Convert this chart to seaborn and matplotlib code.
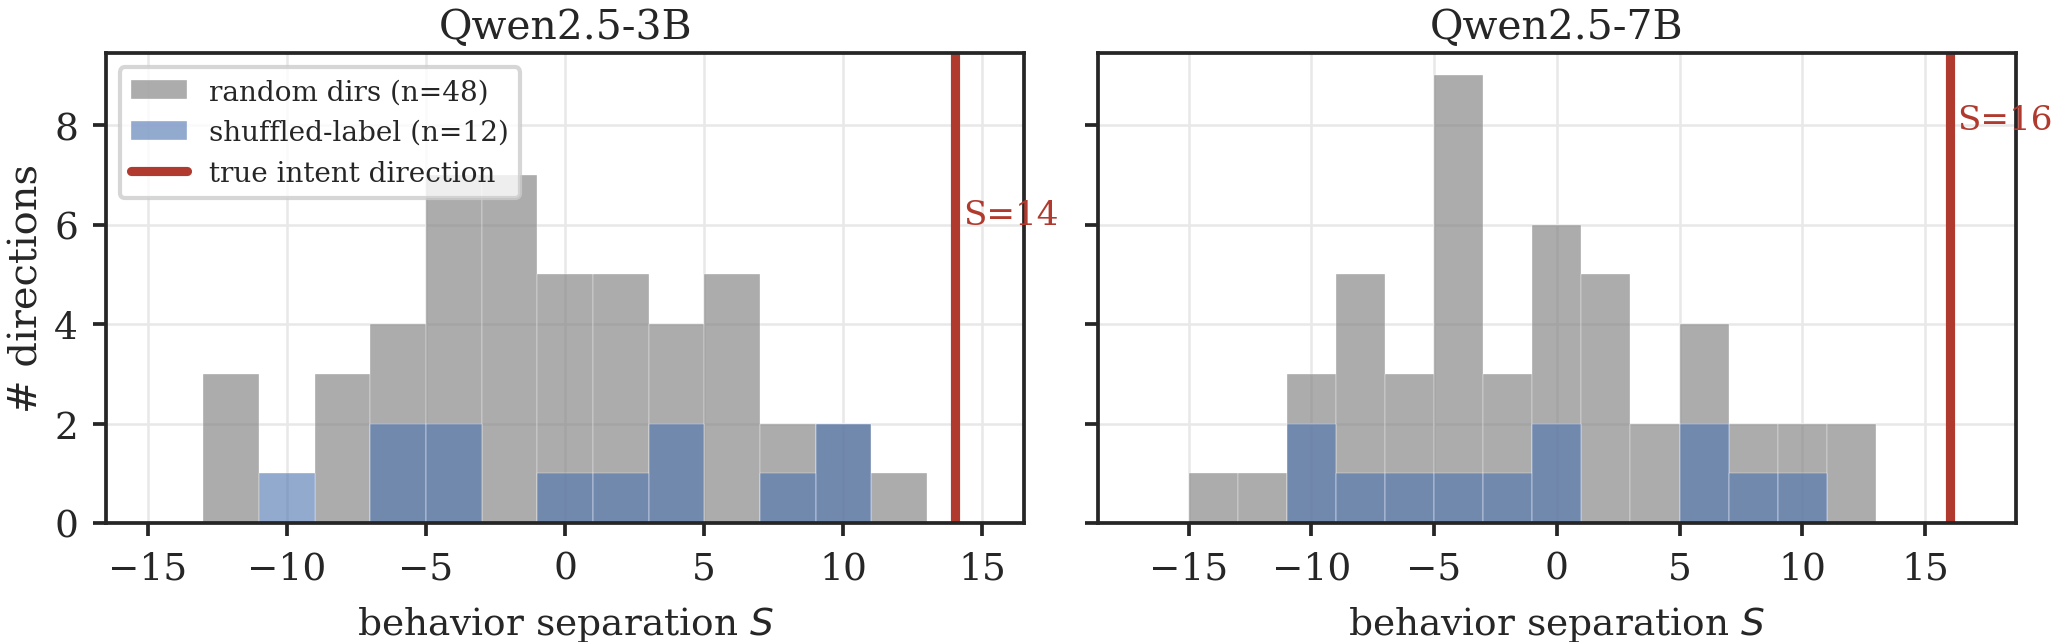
import numpy as np
import seaborn as sns
import matplotlib.pyplot as plt

# bins of width 2, edges at odd numbers
bin_edges = [-15, -13, -11, -9, -7, -5, -3, -1, 1, 3, 5, 7, 9, 11, 13]
bin_centers = [-14, -12, -10, -8, -6, -4, -2, 0, 2, 4, 6, 8, 10, 12]

models = ['Qwen2.5-3B', 'Qwen2.5-7B']
random_counts_3b = [0, 3, 0, 3, 4, 7, 7, 5, 5, 4, 5, 2, 2, 1]
shuffled_counts_3b = [0, 0, 1, 0, 2, 2, 0, 1, 1, 2, 0, 1, 2, 0]
random_counts_7b = [1, 1, 3, 5, 3, 9, 3, 6, 5, 2, 4, 2, 2, 2]
shuffled_counts_7b = [0, 0, 2, 1, 1, 1, 1, 2, 0, 0, 2, 1, 1, 0]
true_S = [14, 16]
x_limits = [(-16.5, 16.5), (-18.7, 18.7)]
label_y = [6.2, 8.1]

random_counts = [random_counts_3b, random_counts_7b]
shuffled_counts = [shuffled_counts_3b, shuffled_counts_7b]

sns.set_theme(style='ticks')
plt.rcParams['font.family'] = ['DejaVu Serif']
plt.rcParams.update({
    'font.size': 9,
    'axes.titlesize': 9.8,
    'axes.labelsize': 9,
    'xtick.labelsize': 9,
    'ytick.labelsize': 9,
    'axes.linewidth': 0.9,
    'xtick.major.width': 0.9,
    'ytick.major.width': 0.9,
    'xtick.major.size': 3.2,
    'ytick.major.size': 3.2,
    'mathtext.fontset': 'dejavusans',
})

red = '#b03a2e'
blue = '#4C72B0'

fig, axes = plt.subplots(1, 2, figsize=(6.843, 2.143), dpi=300, sharey=True)

for i, ax in enumerate(axes):
    ax.grid(True, color='#e8e8e8', linewidth=0.6)
    ax.set_axisbelow(True)
    sns.histplot(x=bin_centers, weights=random_counts[i], bins=bin_edges,
                 color='gray', alpha=0.65, edgecolor='white', linewidth=0.08,
                 label='random dirs (n=48)', ax=ax)
    sns.histplot(x=bin_centers, weights=shuffled_counts[i], bins=bin_edges,
                 color=blue, alpha=0.6, edgecolor='white', linewidth=0.08,
                 label='shuffled-label (n=12)', ax=ax)
    ax.axvline(true_S[i], color=red, linewidth=2.2, label='true intent direction')
    ax.text(true_S[i] + 0.3, label_y[i], f'S={true_S[i]}', color=red,
            fontsize=8.2, va='center', ha='left')
    ax.set_title(models[i], pad=3.5)
    ax.set_xlim(*x_limits[i])
    ax.set_ylim(0, 9.45)
    ax.set_xticks([-15, -10, -5, 0, 5, 10, 15])
    ax.set_yticks([0, 2, 4, 6, 8])
    ax.set_xlabel('behavior separation $S$')
    ax.set_ylabel('')

axes[0].set_ylabel('# directions', fontsize=9.6, labelpad=2)
handles, labels = axes[0].get_legend_handles_labels()
order = [labels.index('random dirs (n=48)'), labels.index('shuffled-label (n=12)'),
         labels.index('true intent direction')]
axes[0].legend([handles[k] for k in order], [labels[k] for k in order],
               loc='upper left', fontsize=6.7, framealpha=0.8)

plt.subplots_adjust(left=0.0516, right=0.982, bottom=0.185, top=0.916, wspace=0.08)
plt.savefig('out.png', dpi=300)
